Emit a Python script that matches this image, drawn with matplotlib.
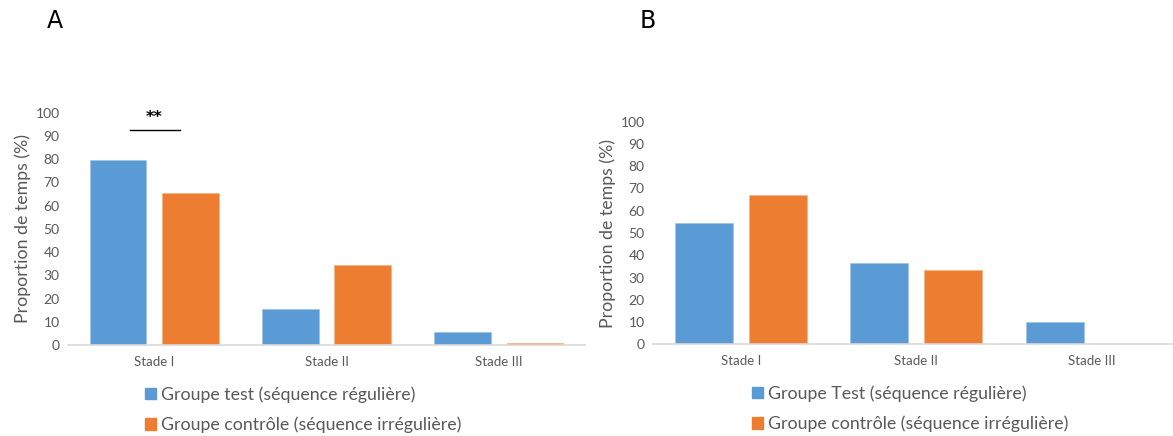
import matplotlib
matplotlib.use("Agg")
import matplotlib.pyplot as plt
import numpy as np
from matplotlib.patches import Patch

categories = ["Stade I", "Stade II", "Stade III"]
a_test = [79.6, 15.5, 5.4]
a_ctrl = [65.4, 34.4, 1.0]
b_test = [54.4, 36.6, 9.8]
b_ctrl = [66.9, 33.3, 0.0]
legend_a = ["Groupe test (séquence régulière)", "Groupe contrôle (séquence irrégulière)"]
legend_b = ["Groupe Test (séquence régulière)", "Groupe contrôle (séquence irrégulière)"]
yticks = list(range(0, 101, 10))

BLUE = "#5B9BD5"
ORANGE = "#ED7D31"
GRAY = "#595959"
FONT = ["Lato", "DejaVu Sans"]
plt.rcParams["font.family"] = FONT

fig = plt.figure(figsize=(11.73, 4.36), dpi=100)
W, H = 1173, 436


def panel(rect, test, ctrl, labels, leg_xy, letter, letter_xy):
    ax = fig.add_axes(rect)
    x = np.arange(len(categories))
    ax.bar(x - 0.21, test, width=0.33, color=BLUE, edgecolor="#9DC3E6", linewidth=0.4)
    ax.bar(x + 0.21, ctrl, width=0.33, color=ORANGE, edgecolor="#F4B183", linewidth=0.4)
    ax.set_xlim(-0.5, 2.5)
    ax.set_ylim(0, 100)
    ax.set_yticks(yticks)
    ax.set_xticks(x)
    ax.set_xticklabels(categories, fontsize=9.5, color=GRAY)
    ax.tick_params(axis="y", labelsize=10, colors=GRAY, length=0, pad=6)
    ax.tick_params(axis="x", length=0, pad=8)
    for s in ["top", "right", "left"]:
        ax.spines[s].set_visible(False)
    ax.spines["bottom"].set_color("#D9D9D9")
    ax.spines["bottom"].set_linewidth(1.2)
    ax.set_ylabel("Proportion de temps (%)", fontsize=12.8, color=GRAY, labelpad=3)
    ax.patch.set_alpha(0)
    handles = [Patch(color=BLUE), Patch(color=ORANGE)]
    fig.legend(handles, labels, loc="upper left",
               bbox_to_anchor=(leg_xy[0] / W, 1 - leg_xy[1] / H),
               frameon=False, fontsize=12.8, labelcolor=GRAY,
               handlelength=0.62, handleheight=0.62, handletextpad=0.3,
               labelspacing=0.8, borderpad=0, borderaxespad=0)
    fig.text(letter_xy[0] / W, 1 - letter_xy[1] / H, letter, fontsize=17,
             family=["DejaVu Sans"], ha="center", va="center", color="black")
    return ax


axA = panel([68 / W, 1 - 345 / H, 517 / W, 232.5 / H], a_test, a_ctrl,
            legend_a, (145, 386), "A", (55, 21))
axB = panel([653 / W, 1 - 344.3 / H, 526.5 / W, 222.6 / H], b_test, b_ctrl,
            legend_b, (752, 385), "B", (648, 21))

# significance annotation on panel A
axA.plot([-0.143, 0.148], [92.5, 92.5], color="black", linewidth=1)
axA.text(0.0, 97.8, "**", ha="center", va="center", fontsize=11.5, fontweight="bold",
         family=["DejaVu Sans"], color="black")

fig.savefig("out.png", dpi=100)
